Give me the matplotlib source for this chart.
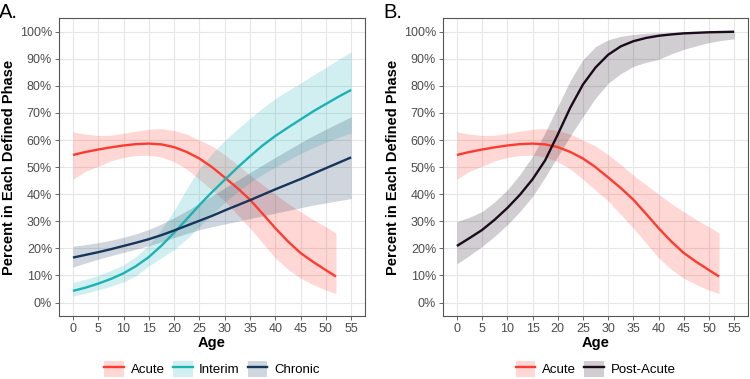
import numpy as np
import matplotlib
matplotlib.use("Agg")
from matplotlib import pyplot as plt
from matplotlib.patches import Patch
from matplotlib.lines import Line2D
from matplotlib.ticker import FuncFormatter

plt.rcParams['font.family'] = ['Liberation Sans', 'DejaVu Sans']

# ages (every 2.5 years)
ages = [0, 2.5, 5, 7.5, 10, 12.5, 15, 17.5, 20, 22.5, 25, 27.5, 30,
        32.5, 35, 37.5, 40, 42.5, 45, 47.5, 50, 52.5, 55]
# acute stops at 52
ages_acute = [0, 2.5, 5, 7.5, 10, 12.5, 15, 17.5, 20, 22.5, 25, 27.5, 30,
              32.5, 35, 37.5, 40, 42.5, 45, 47.5, 50, 52]

acute = [54.5, 55.6, 56.5, 57.3, 58.0, 58.5, 58.7, 58.4, 57.4, 55.6, 53.2, 50.0, 46.2,
         42.3, 38.0, 32.8, 27.5, 22.6, 18.3, 15.0, 12.0, 9.6]
acute_hi = [63.0, 62.2, 61.7, 61.8, 62.5, 63.3, 64.0, 64.2, 63.5, 62.2, 60.0, 57.8, 54.6,
            51.0, 47.0, 43.5, 40.0, 36.6, 33.5, 30.6, 28.0, 25.7]
acute_lo = [45.5, 48.5, 50.3, 52.3, 53.6, 54.3, 54.4, 53.7, 52.0, 49.3, 45.5, 41.5, 37.5,
            32.5, 27.5, 22.0, 16.5, 12.3, 9.0, 6.6, 4.6, 3.3]

interim = [4.3, 5.5, 7.0, 8.7, 10.8, 13.5, 16.8, 21.0, 25.8, 30.8, 36.0, 40.8, 45.3,
           49.8, 54.0, 58.0, 61.5, 64.6, 67.6, 70.6, 73.3, 76.0, 78.5]
interim_hi = [7.4, 8.6, 10.0, 11.8, 13.9, 17.0, 21.2, 27.0, 34.0, 42.0, 49.5, 55.0, 59.8,
              64.0, 68.0, 71.8, 75.3, 78.3, 81.0, 84.0, 86.8, 89.8, 92.6]
interim_lo = [2.4, 3.4, 4.7, 6.0, 7.6, 10.0, 13.5, 16.5, 19.5, 23.5, 28.0, 32.5, 37.0,
              40.8, 44.3, 47.3, 50.0, 52.6, 55.0, 57.2, 59.2, 61.0, 62.6]

chronic = [16.6, 17.6, 18.6, 19.7, 20.9, 22.1, 23.4, 24.9, 26.6, 28.4, 30.2, 32.0, 34.0,
           35.9, 37.8, 39.8, 41.8, 43.7, 45.6, 47.6, 49.6, 51.6, 53.6]
chronic_hi = [20.8, 21.4, 22.1, 23.0, 24.1, 25.4, 27.0, 29.0, 31.3, 33.9, 36.6, 39.4, 42.3,
              45.1, 48.0, 50.8, 53.6, 56.3, 59.0, 61.6, 64.0, 66.3, 68.6]
chronic_lo = [13.1, 14.6, 16.0, 17.3, 18.5, 19.7, 21.0, 22.4, 24.0, 25.5, 26.9, 28.0, 29.0,
              30.0, 31.0, 32.0, 33.0, 34.0, 35.0, 36.0, 36.8, 37.6, 38.4]

post = [20.9, 23.8, 26.8, 30.6, 34.9, 39.8, 45.5, 52.5, 62.0, 72.0, 80.5, 86.8, 91.5,
        94.6, 96.5, 97.7, 98.5, 99.0, 99.4, 99.6, 99.8, 99.9, 100.0]
post_hi = [29.9, 31.5, 33.6, 37.2, 41.6, 47.3, 54.0, 62.8, 72.4, 82.0, 89.7, 94.5, 97.0,
           98.3, 99.0, 99.4, 99.6, 99.8, 99.9, 99.9, 100.0, 100.0, 100.0]
post_lo = [14.3, 17.4, 20.7, 24.5, 28.7, 33.6, 39.2, 46.3, 54.0, 61.5, 68.7, 75.5, 81.0,
           84.5, 87.2, 88.7, 89.8, 91.8, 93.5, 94.8, 96.0, 96.8, 97.4]

c_acute = "#FF3B30"
c_interim = "#1BB2B4"
c_chronic = "#15365A"
c_post = "#1A0B1A"

x_ticks = list(range(0, 60, 5))
y_ticks = list(range(0, 110, 10))

fig = plt.figure(figsize=(7.5, 3.79), dpi=100)
axA = fig.add_axes([0.0787, 0.166, 0.408, 0.786])
axB = fig.add_axes([0.5907, 0.166, 0.4067, 0.786])


def band(ax, x, y, lo, hi, color, label):
    ax.fill_between(x, lo, hi, color=color, alpha=0.2, linewidth=0)
    ax.plot(x, y, color=color, lw=1.7, solid_capstyle="butt", solid_joinstyle="round")
    return (Patch(facecolor=color, alpha=0.2, edgecolor="none"),
            Line2D([], [], color=color, lw=1.7)), label


def style(ax, letter):
    ax.set_xlim(-2.75, 57.75)
    ax.set_ylim(-5, 105)
    ax.set_xticks(x_ticks)
    ax.set_yticks(y_ticks)
    ax.yaxis.set_major_formatter(FuncFormatter(lambda v, p: "%d%%" % v))
    ax.grid(True, color="#E6E6E6", lw=0.8)
    ax.set_axisbelow(True)
    for s in ax.spines.values():
        s.set_color("#555555")
        s.set_linewidth(0.8)
    ax.tick_params(axis="both", colors="#4D4D4D", labelsize=9, length=3, width=0.6)
    ax.tick_params(axis="both", labelcolor="#4D4D4D", pad=2)
    ax.set_xlabel("Age", fontsize=10.5, fontweight="bold", labelpad=1)
    ax.set_ylabel("Percent in Each Defined Phase", fontsize=10.5, fontweight="bold", labelpad=3)
    ax.text(-0.195, 1.05, letter, transform=ax.transAxes, fontsize=14.5, va="top", ha="left")


hA = []
hA.append(band(axA, ages_acute, acute, acute_lo, acute_hi, c_acute, "Acute"))
hA.append(band(axA, ages, interim, interim_lo, interim_hi, c_interim, "Interim"))
hA.append(band(axA, ages, chronic, chronic_lo, chronic_hi, c_chronic, "Chronic"))
style(axA, "A.")

hB = []
hB.append(band(axB, ages_acute, acute, acute_lo, acute_hi, c_acute, "Acute"))
hB.append(band(axB, ages, post, post_lo, post_hi, c_post, "Post-Acute"))
style(axB, "B.")

for ax, hs in ((axA, hA), (axB, hB)):
    ax.legend([h for h, l in hs], [l for h, l in hs], loc="center", bbox_to_anchor=(0.5, -0.178),
              ncol=len(hs), frameon=False, fontsize=9.5, handlelength=1.5, handleheight=1.5,
              handletextpad=0.5, columnspacing=0.6, borderpad=0)

fig.savefig("out.png", dpi=100)
